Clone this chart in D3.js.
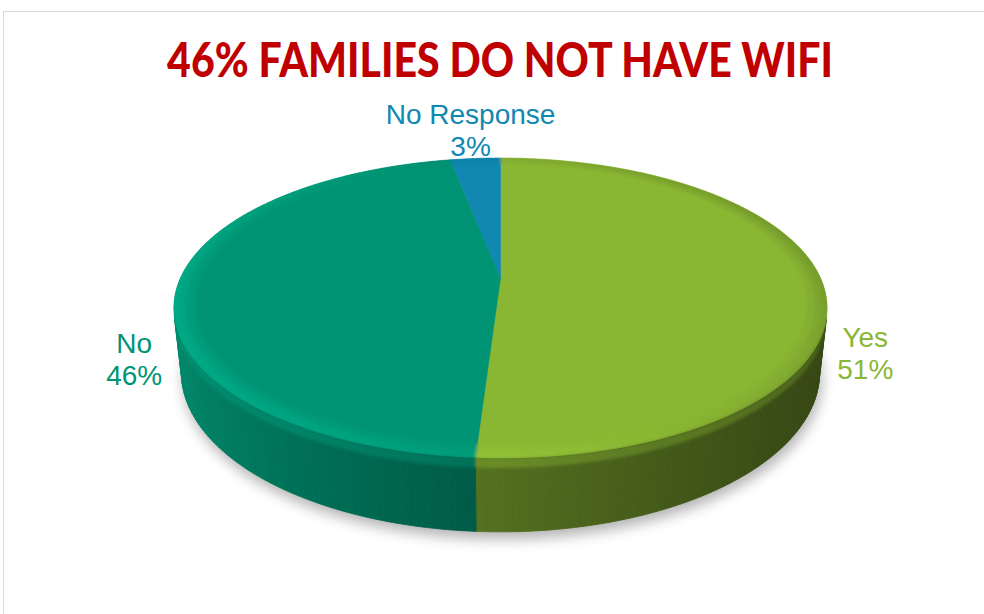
<!DOCTYPE html>
<html>
<head>
<meta charset="utf-8">
<script src="https://cdn.jsdelivr.net/npm/d3@7/dist/d3.min.js"></script>
<style>
  html, body { margin: 0; padding: 0; background: #fff; }
  svg { display: block; }
</style>
</head>
<body>
<svg id="chart" width="984" height="614"></svg>
<script>
// Survey answers: does the family have wifi at home?
const categories = ["Yes", "No", "No Response"];
const values = [51, 46, 3];
const sliceColors = ["#8ab733", "#009474", "#1188b1"];
const titleText = "46% FAMILIES DO NOT HAVE WIFI";

const svg = d3.select("#chart");

// chart frame (only the top and left edges fall inside the window)
svg.append("rect")
  .attr("x", 3.5).attr("y", 11.5)
  .attr("width", 1200).attr("height", 900)
  .attr("fill", "none").attr("stroke", "#d9d9d9").attr("stroke-width", 1);

// ---- 3D perspective projection of a tilted disc ----
const cx = 500.5, cy = 278;
const tiltSin = 0.45, tiltCos = Math.sqrt(1 - tiltSin * tiltSin);
const camDist = 4.465;      // camera distance, in pie radii
const focal = 1429;         // px
const depth = 0.227;        // pie thickness, in pie radii

function project(theta, r, h) {
  const u = r * Math.sin(theta);
  const v = r * Math.cos(theta);
  const Y = v * tiltSin + h * tiltCos;
  const Z = camDist + v * tiltCos - h * tiltSin;
  return [cx + focal * u / Z, cy - focal * Y / Z];
}

const pie = d3.pie().sort(null).value(d => d.value)
  .startAngle(0).endAngle(2 * Math.PI);
const arcs = pie(categories.map((c, i) => ({ name: c, value: values[i], color: sliceColors[i] })));

const line = d3.line();
const defs = svg.append("defs");

defs.append("filter").attr("id", "shadowBlur")
  .attr("x", "-20%").attr("y", "-20%").attr("width", "140%").attr("height", "140%")
  .append("feGaussianBlur").attr("stdDeviation", 7);
defs.append("filter").attr("id", "rimBlur")
  .attr("x", "-5%").attr("y", "-5%").attr("width", "110%").attr("height", "110%")
  .append("feGaussianBlur").attr("stdDeviation", 1.4);

function arcPoints(a0, a1, r, h) {
  const n = Math.max(2, Math.ceil((a1 - a0) / (Math.PI / 360)));
  return d3.range(n + 1).map(i => project(a0 + (a1 - a0) * i / n, r, h));
}
function facesCamera(t) {
  return -1 - camDist * tiltCos * Math.cos(t) > 0;
}

// soft drop shadow under the pie
const bottomOutline = arcPoints(0, 2 * Math.PI, 1.0, -depth);
svg.append("path")
  .attr("d", line(bottomOutline) + "Z")
  .attr("transform", "translate(2,7)")
  .attr("fill", "#000").attr("opacity", 0.3)
  .attr("filter", "url(#shadowBlur)");

const pieG = svg.append("g");

// side wall lighting: light comes from the upper left
function sideFactor(t) {
  return 0.675 - 0.275 * Math.sin(t) + 0.075 * Math.cos(t);
}
function rimFactor(t) {
  return 1 + 0.2 * (-0.7 * Math.sin(t) - 0.3 * Math.cos(t));
}
function shade(color, k) {
  const c = d3.rgb(color);
  return d3.rgb(Math.min(255, c.r * k), Math.min(255, c.g * k), Math.min(255, c.b * k)).formatHex();
}

// split every slice into thin angular steps
function steps(a, size) {
  const n = Math.max(1, Math.ceil((a.endAngle - a.startAngle) / size));
  return d3.range(n).map(i => {
    const t0 = a.startAngle + (a.endAngle - a.startAngle) * i / n;
    const t1 = a.startAngle + (a.endAngle - a.startAngle) * (i + 1) / n;
    return { t0, t1, tm: (t0 + t1) / 2, color: a.data.color };
  });
}
const deg = Math.PI / 180;

// side walls (only faces turned toward the camera)
pieG.append("g").selectAll("path")
  .data(arcs.flatMap(a => steps(a, deg)).filter(s => facesCamera(s.tm)))
  .join("path")
  .attr("d", s => line([project(s.t0, 1, 0), project(s.t1, 1, 0),
                        project(s.t1, 1, -depth), project(s.t0, 1, -depth)]) + "Z")
  .attr("fill", s => shade(s.color, sideFactor(s.tm)))
  .attr("stroke", s => shade(s.color, sideFactor(s.tm)))
  .attr("stroke-width", 0.8);

// top faces
pieG.append("g").selectAll("path")
  .data(arcs)
  .join("path")
  .attr("d", a => line([project(0, 0, 0)].concat(arcPoints(a.startAngle, a.endAngle, 1, 0))) + "Z")
  .attr("fill", a => a.data.color)
  .attr("stroke", a => a.data.color).attr("stroke-width", 0.6);

// rounded rim (bevel) along the top edge
defs.append("clipPath").attr("id", "topClip")
  .append("path").attr("d", line(arcPoints(0, 2 * Math.PI, 1, 0)) + "Z");
const rings = [[0.94, 0.965, 0.35], [0.965, 0.985, 0.75], [0.985, 1.01, 1.0]];
const rimCells = arcs.flatMap(a => steps(a, 2 * deg))
  .flatMap(s => rings.map(([r0, r1, w]) => ({ ...s, r0, r1, w })));
pieG.append("g").attr("clip-path", "url(#topClip)")
  .append("g").attr("filter", "url(#rimBlur)")
  .selectAll("path")
  .data(rimCells)
  .join("path")
  .attr("d", s => line([project(s.t0, s.r0, 0), project(s.t1, s.r0, 0),
                        project(s.t1, s.r1, 0), project(s.t0, s.r1, 0)]) + "Z")
  .attr("fill", s => shade(s.color, 1 + (rimFactor(s.tm) - 1) * s.w))
  .attr("stroke", s => shade(s.color, 1 + (rimFactor(s.tm) - 1) * s.w))
  .attr("stroke-width", 0.6);

// top band of the side wall catches the rim light too
pieG.append("g").attr("filter", "url(#rimBlur)").selectAll("path")
  .data(arcs.flatMap(a => steps(a, deg)).filter(s => facesCamera(s.tm)))
  .join("path")
  .attr("d", s => line([project(s.t0, 1, 0), project(s.t1, 1, 0),
                        project(s.t1, 1, -0.03), project(s.t0, 1, -0.03)]) + "Z")
  .attr("fill", s => shade(s.color, (sideFactor(s.tm) + rimFactor(s.tm)) / 2))
  .attr("opacity", 0.7);

// data labels outside each slice
const fontSize = 28, lineGap = 32;
const baseCentre = project(0, 0, -depth);
const labelG = svg.append("g")
  .attr("font-family", "'Liberation Sans', Arial, sans-serif")
  .attr("font-size", fontSize);
arcs.forEach(a => {
  const mid = (a.startAngle + a.endAngle) / 2;
  // front half: hang the label off the lower edge, back half: off the top edge
  const anchor = project(mid, 1, Math.cos(mid) < 0 ? -depth : 0);
  let dx = anchor[0] - baseCentre[0], dy = anchor[1] - baseCentre[1];
  const len = Math.hypot(dx, dy);
  dx /= len; dy /= len;
  const g = labelG.append("g").attr("fill", a.data.color).attr("text-anchor", "middle");
  const t1 = g.append("text").attr("y", 0).text(a.data.name);
  const t2 = g.append("text").attr("y", lineGap).text(Math.round(a.data.value) + "%");
  const w = Math.max(t1.node().getComputedTextLength(), t2.node().getComputedTextLength());
  const hgt = lineGap + fontSize * 0.72;
  const gap = 22 * Math.abs(dx) + 6 * Math.abs(dy);
  const t = gap + Math.min(w / 2 / Math.max(Math.abs(dx), 1e-6), hgt / 2 / Math.max(Math.abs(dy), 1e-6));
  const lx = anchor[0] + dx * t;
  const ly = anchor[1] + dy * t + 6;
  // block is centred between the cap top of line 1 and the baseline of line 2
  g.attr("transform", `translate(${lx},${ly - hgt / 2 + fontSize * 0.72})`);
});

// title
const title = svg.append("text")
  .attr("font-family", "'Lato', 'Open Sans', sans-serif")
  .attr("font-weight", 900)
  .attr("font-size", 47)
  .attr("fill", "#c00000")
  .attr("text-anchor", "middle")
  .text(titleText);
const tw = title.node().getComputedTextLength();
title.attr("transform", `translate(500,77) scale(${666 / tw},1)`);
</script>
</body>
</html>
